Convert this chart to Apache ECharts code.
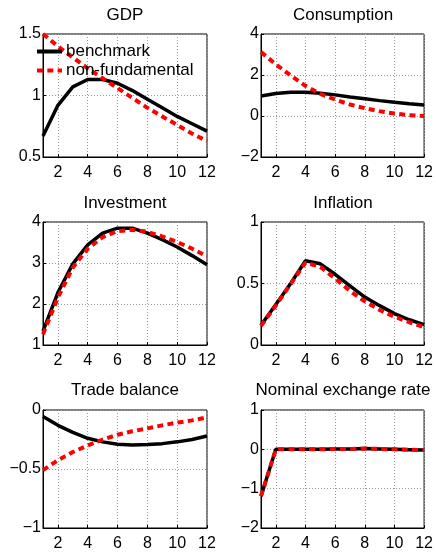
<!DOCTYPE html>
<html>
<head>
<meta charset="utf-8">
<style>
  html, body { margin: 0; padding: 0; background: #fff; }
  #chart { width: 436px; height: 552px; }
</style>
<script src="https://cdn.jsdelivr.net/npm/echarts@6/dist/echarts.min.js"></script>
</head>
<body>
<div id="chart"></div>
<script>
// Horizon (quarters) shared by every panel
const periods = ['1', '2', '3', '4', '5', '6', '7', '8', '9', '10', '11', '12'];

const panelTitles = ['GDP', 'Consumption', 'Investment', 'Inflation', 'Trade balance', 'Nominal exchange rate'];
const seriesNames = ['benchmark', 'non-fundamental'];

// Impulse responses, benchmark model
const gdpBench = [0.67, 0.92, 1.07, 1.13, 1.13, 1.10, 1.04, 0.97, 0.90, 0.83, 0.77, 0.71];
const consBench = [0.98, 1.10, 1.16, 1.16, 1.11, 1.03, 0.93, 0.84, 0.75, 0.67, 0.60, 0.54];
const invBench = [1.34, 2.28, 2.98, 3.44, 3.73, 3.85, 3.85, 3.73, 3.57, 3.39, 3.18, 2.96];
const inflBench = [0.16, 0.33, 0.50, 0.685, 0.66, 0.575, 0.48, 0.39, 0.32, 0.255, 0.205, 0.165];
const tbBench = [-0.055, -0.13, -0.19, -0.24, -0.27, -0.29, -0.296, -0.293, -0.285, -0.27, -0.25, -0.22];
const nerBench = [-1.19, 0.0, 0.0, 0.0, 0.0, 0.01, 0.01, 0.02, 0.01, 0.0, -0.01, -0.02];

// Impulse responses, non-fundamental model
const gdpNonFund = [1.50, 1.40, 1.31, 1.22, 1.14, 1.06, 0.98, 0.90, 0.83, 0.76, 0.69, 0.63];
const consNonFund = [3.12, 2.52, 1.98, 1.47, 1.08, 0.80, 0.56, 0.38, 0.23, 0.12, 0.04, 0.00];
const invNonFund = [1.26, 2.16, 2.89, 3.35, 3.63, 3.78, 3.81, 3.76, 3.65, 3.51, 3.35, 3.16];
const inflNonFund = [0.155, 0.32, 0.495, 0.67, 0.635, 0.54, 0.44, 0.355, 0.285, 0.23, 0.185, 0.145];
const tbNonFund = [-0.51, -0.425, -0.356, -0.30, -0.25, -0.21, -0.18, -0.156, -0.13, -0.107, -0.088, -0.063];
const nerNonFund = [-1.19, 0.0, 0.0, 0.0, 0.0, 0.01, 0.01, 0.02, 0.01, 0.0, -0.01, -0.02];

// y-axis ranges: [min, max, interval]
const yRanges = [
  [0.5, 1.5, 0.5],
  [-2, 4, 2],
  [1, 4, 1],
  [0, 1, 0.5],
  [-1, 0, 0.5],
  [-2, 1, 1]
];

const benchSets = [gdpBench, consBench, invBench, inflBench, tbBench, nerBench];
const nonFundSets = [gdpNonFund, consNonFund, invNonFund, inflNonFund, tbNonFund, nerNonFund];

// Panel geometry (pixels)
const colLeft = [43, 261];
const plotWidth = 164;
const rowTop = [34, 222, 410];
const rowHeight = [123, 123, 121];
const titleTop = [7, 195, 382];

const FONT = 'Liberation Sans, Arial, Helvetica, sans-serif';

const grids = [], xAxes = [], yAxes = [], titles = [], series = [];

const fmtNum = v => String(Math.round(v * 100) / 100).replace('-', '\u2212');
// only even periods get a label, tick and grid line
const evenIdx = (idx) => idx % 2 === 1;

for (let i = 0; i < 6; i++) {
  const col = i % 2, row = Math.floor(i / 2);
  grids.push({
    left: colLeft[col], top: rowTop[row], width: plotWidth, height: rowHeight[row],
    show: true, borderColor: '#000', borderWidth: 1, backgroundColor: 'transparent',
    containLabel: false
  });
  titles.push({
    text: panelTitles[i],
    left: colLeft[col] + plotWidth / 2,
    top: titleTop[row],
    textAlign: 'center',
    padding: 0,
    textStyle: { fontFamily: FONT, fontSize: 17, fontWeight: 'normal', color: '#000' }
  });
  xAxes.push({
    gridIndex: i, type: 'category', data: periods, boundaryGap: false,
    axisLine: { show: true, onZero: false, lineStyle: { color: '#000', width: 1 } },
    axisTick: { show: true, inside: true, length: 3, interval: evenIdx, lineStyle: { color: '#000' } },
    axisLabel: { show: true, interval: evenIdx, margin: 8, fontFamily: FONT, fontSize: 16, color: '#000' },
    splitLine: { show: true, interval: evenIdx, lineStyle: { color: '#999', width: 1, type: [1, 2] } }
  });
  const [mn, mx, step] = yRanges[i];
  yAxes.push({
    gridIndex: i, type: 'value', min: mn, max: mx, interval: step,
    axisLine: { show: true, lineStyle: { color: '#000', width: 1 } },
    axisTick: { show: true, inside: true, length: 3, lineStyle: { color: '#000' } },
    axisLabel: { show: true, margin: 2, fontFamily: FONT, fontSize: 16, color: '#000', formatter: fmtNum },
    splitLine: { show: true, lineStyle: { color: '#999', width: 1, type: [1, 2] } }
  });
  series.push({
    name: seriesNames[0], type: 'line', xAxisIndex: i, yAxisIndex: i,
    data: benchSets[i], symbol: 'none', silent: true,
    lineStyle: { color: '#000', width: 3.5 }, itemStyle: { color: '#000' }, z: 2
  });
  series.push({
    name: seriesNames[1], type: 'line', xAxisIndex: i, yAxisIndex: i,
    data: nonFundSets[i], symbol: 'none', silent: true,
    lineStyle: { color: '#ff0000', width: 4, type: [6, 4.3] }, itemStyle: { color: '#ff0000' }, z: 3
  });
}

const chart = echarts.init(document.getElementById('chart'), null, { renderer: 'canvas' });
chart.setOption({
  animation: false,
  backgroundColor: '#fff',
  title: titles,
  grid: grids,
  xAxis: xAxes,
  yAxis: yAxes,
  legend: {
    data: seriesNames,
    orient: 'vertical',
    left: 35, top: 43,
    padding: 0,
    itemGap: 2,
    itemWidth: 25, itemHeight: 14,
    selectedMode: false,
    itemStyle: { opacity: 0 },
    lineStyle: { width: 4 },
    textStyle: { fontFamily: FONT, fontSize: 17, color: '#000', padding: [0, 0, 0, -1] }
  },
  series: series
});
</script>
</body>
</html>
